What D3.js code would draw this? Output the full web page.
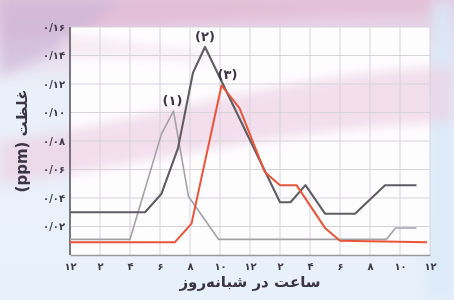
<!DOCTYPE html>
<html>
<head>
<meta charset="utf-8">
<script src="https://cdnjs.cloudflare.com/ajax/libs/d3/7.8.5/d3.min.js"></script>
<style>
  body { margin: 0; background: #eaf2fa; }
  svg { display: block; }
  text { font-family: "DejaVu Sans", sans-serif; }
</style>
</head>
<body>
<svg id="chart" width="454" height="300"></svg>
<script>
////////////////////////////////////////////////////////////////////////
// data -- hour of day (0 = midnight) and concentration (ppm)
////////////////////////////////////////////////////////////////////////
var hours1 = [0, 4, 6.1, 6.9, 7.9, 9.9, 21.1, 21.7, 23.1];
var conc1  = [0.011, 0.011, 0.085, 0.101, 0.041, 0.011, 0.011, 0.019, 0.019];

var hours2 = [0, 5, 6.1, 7.2, 8.2, 9, 14, 14.7, 15.7, 17, 19, 21, 23.1];
var conc2  = [0.03, 0.03, 0.043, 0.075, 0.128, 0.146, 0.037, 0.037, 0.049, 0.029, 0.029, 0.049, 0.049];

var hours3 = [0, 7, 8.1, 10.1, 11.3, 13, 14, 15.1, 17, 18, 23.8];
var conc3  = [0.009, 0.009, 0.022, 0.119, 0.103, 0.058, 0.049, 0.049, 0.019, 0.01, 0.009];

var seriesNames = ["(۱)", "(۲)", "(۳)"];

var xTickValues = [0, 2, 4, 6, 8, 10, 12, 14, 16, 18, 20, 22, 24];
var xTickLabels = ["۱۲", "۲", "۴", "۶", "۸", "۱۰", "۱۲", "۲", "۴", "۶", "۸", "۱۰", "۱۲"];

var yTickValues = [0.02, 0.04, 0.06, 0.08, 0.10, 0.12, 0.14, 0.16];
var yTickLabels = ["۰/۰۲", "۰/۰۴", "۰/۰۶", "۰/۰۸", "۰/۱۰", "۰/۱۲", "۰/۱۴", "۰/۱۶"];

var xTitle = "ساعت در شبانه‌روز";
var yTitle = "غلظت (ppm)";


////////////////////////////////////////////////////////////////////////
// setup
////////////////////////////////////////////////////////////////////////
var svg = d3.select("#chart");
var plotLeft = 70, plotRight = 430, plotTop = 27, plotBottom = 255;

var x = d3.scaleLinear().domain([0, 24]).range([plotLeft, plotRight]);
var y = d3.scaleLinear().domain([0, 0.16]).range([plotBottom, plotTop]);

//Background swooshes
var defs = svg.append("defs");
defs.append("filter").attr("id", "blur")
    .attr("x", "-20%").attr("y", "-20%").attr("width", "140%").attr("height", "140%")
    .append("feGaussianBlur").attr("stdDeviation", 6);

var bgGrad = defs.append("linearGradient").attr("id", "bgGrad")
    .attr("x1", 0).attr("y1", 0).attr("x2", 0).attr("y2", 1);
bgGrad.append("stop").attr("offset", "0%").attr("stop-color", "#e4c6dc");
bgGrad.append("stop").attr("offset", "10%").attr("stop-color", "#e9d4e6");
bgGrad.append("stop").attr("offset", "30%").attr("stop-color", "#eaf0f9");
bgGrad.append("stop").attr("offset", "100%").attr("stop-color", "#e8f1fa");

svg.append("rect").attr("width", 454).attr("height", 300).attr("fill", "url(#bgGrad)");

var bg = svg.append("g").attr("filter", "url(#blur)");
bg.append("path")   //top pink band
    .attr("d", "M0,0 L454,0 L454,12 C360,8 250,20 150,26 C90,30 40,36 0,42 Z")
    .attr("fill", "#e2bcd6").attr("opacity", 0.8);
bg.append("path")   //lavender corner
    .attr("d", "M0,0 L120,0 C90,30 50,60 0,75 Z")
    .attr("fill", "#cdb6d8").attr("opacity", 0.7);
bg.append("path")   //right light blue edge
    .attr("d", "M432,0 L454,0 L454,300 L425,300 Z")
    .attr("fill", "#d9eaf7").attr("opacity", 0.8);

//Plot area
svg.append("rect")
    .attr("x", plotLeft).attr("y", plotTop)
    .attr("width", plotRight - plotLeft).attr("height", plotBottom - plotTop)
    .attr("fill", "#fefdfe");

//pink band crossing the plot
var band = svg.append("g").attr("filter", "url(#blur)");
band.append("path")
    .attr("d", "M0,140 C120,130 250,78 454,66 L454,122 C300,126 160,160 0,185 Z")
    .attr("fill", "#edd0e4").attr("opacity", 0.7);
band.append("path")
    .attr("d", "M60,34 C120,40 160,48 210,52 L210,62 C160,60 120,56 60,58 Z")
    .attr("fill", "#f0dbea").attr("opacity", 0.5);


////////////////////////////////////////////////////////////////////////
// grid
////////////////////////////////////////////////////////////////////////
svg.append("g").selectAll("line").data(xTickValues).enter().append("line")
    .attr("x1", d => x(d)).attr("x2", d => x(d))
    .attr("y1", plotTop).attr("y2", plotBottom)
    .attr("stroke", "#d6d3da").attr("stroke-width", 1);

svg.append("g").selectAll("line").data(yTickValues).enter().append("line")
    .attr("x1", plotLeft).attr("x2", plotRight)
    .attr("y1", d => y(d)).attr("y2", d => y(d))
    .attr("stroke", "#d6d3da").attr("stroke-width", 1);


////////////////////////////////////////////////////////////////////////
// axes
////////////////////////////////////////////////////////////////////////
var xAxis = svg.append("g")
    .attr("transform", "translate(0," + plotBottom + ")")
    .call(d3.axisBottom(x).tickValues(xTickValues)
        .tickFormat((d, i) => xTickLabels[i]).tickSize(0).tickPadding(8));
xAxis.select(".domain").attr("stroke", "#9a9a9a").attr("stroke-width", 1.5);
xAxis.selectAll("text").attr("font-size", 10).attr("font-weight", "bold").attr("fill", "#3c3848");

var yAxis = svg.append("g")
    .attr("transform", "translate(" + plotLeft + ",0)")
    .call(d3.axisLeft(y).tickValues(yTickValues)
        .tickFormat((d, i) => yTickLabels[i]).tickSize(0).tickSizeOuter(0).tickPadding(5));
yAxis.select(".domain").attr("d", "M0," + y(0.16) + "V" + y(0))
    .attr("stroke", "#55525a").attr("stroke-width", 1.5);
yAxis.selectAll("text").attr("font-size", 10).attr("font-weight", "bold").attr("fill", "#3c3848");

//Titles
svg.append("text")
    .attr("x", 250).attr("y", 287)
    .attr("direction", "rtl")
    .attr("text-anchor", "middle")
    .attr("font-size", 15).attr("font-weight", "bold").attr("fill", "#3a3444")
    .text(xTitle);

svg.append("text")
    .attr("transform", "translate(27,141) rotate(-90)")
    .attr("direction", "rtl")
    .attr("text-anchor", "middle")
    .attr("font-size", 15).attr("font-weight", "bold").attr("fill", "#3a3444")
    .text(yTitle);


////////////////////////////////////////////////////////////////////////
// lines
////////////////////////////////////////////////////////////////////////
var line = d3.line().x(d => x(d[0])).y(d => y(d[1]));

var series = [
    { hours: hours1, conc: conc1, color: "#a3a1a6", width: 1.6, labelDx: -1 },
    { hours: hours2, conc: conc2, color: "#5f5d63", width: 2.1, labelDx: 0 },
    { hours: hours3, conc: conc3, color: "#e8553a", width: 2, labelDx: 6 }
    ];

series.forEach(s =>
    {
    svg.append("path")
        .datum(d3.zip(s.hours, s.conc))
        .attr("d", line)
        .attr("fill", "none")
        .attr("stroke", s.color)
        .attr("stroke-width", s.width)
        .attr("stroke-linejoin", "round");
    });

//Peak labels, placed above each series maximum
series.forEach((s, i) =>
    {
    var k = d3.maxIndex(s.conc);
    svg.append("text")
        .attr("x", x(s.hours[k]) + s.labelDx)
        .attr("y", y(s.conc[k]) - 6)
        .attr("text-anchor", "middle")
        .attr("font-size", 13).attr("font-weight", "bold").attr("fill", "#3a3444")
        .text(seriesNames[i]);
    });
</script>
</body>
</html>
